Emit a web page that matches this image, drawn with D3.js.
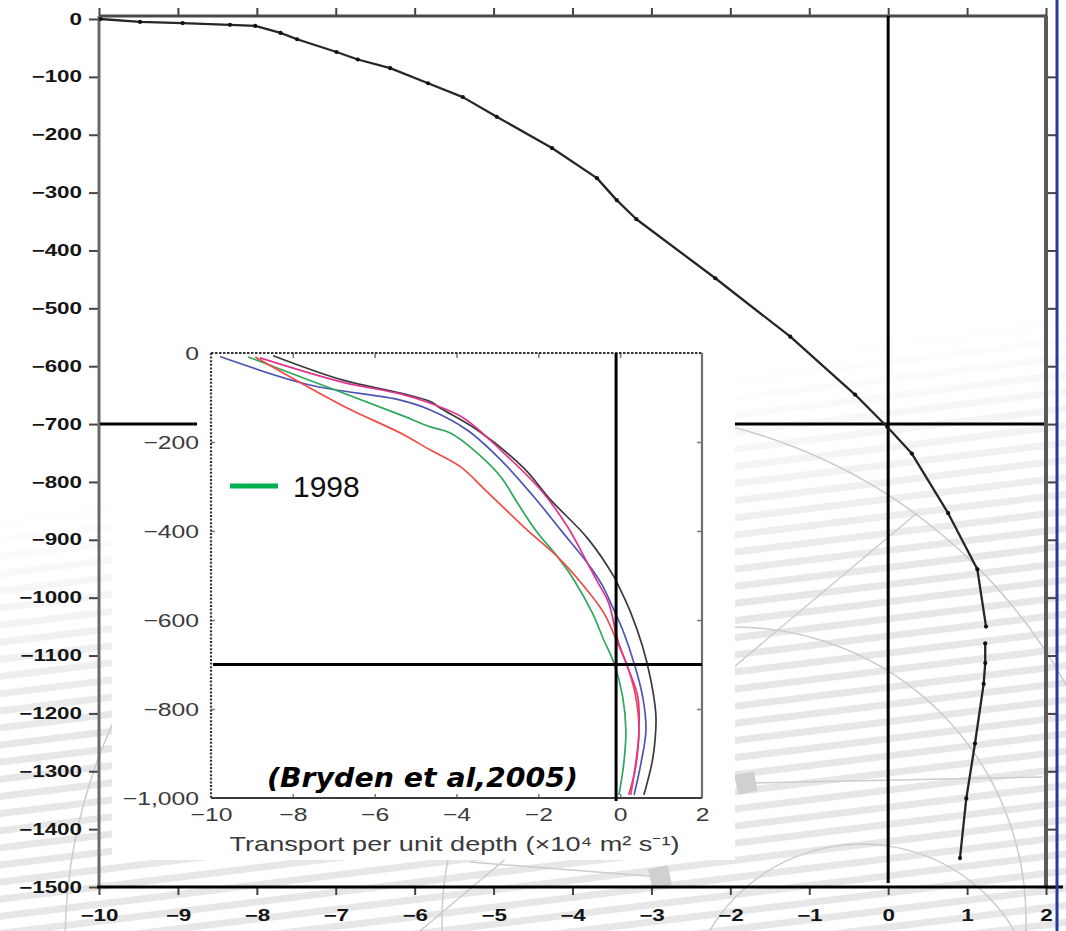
<!DOCTYPE html>
<html>
<head>
<meta charset="utf-8">
<script src="https://cdn.jsdelivr.net/npm/d3@7"></script>
<style>
  body { margin: 0; background: #fff; }
  svg { display: block; }
</style>
</head>
<body>
<svg id="chart" width="1066" height="931"></svg>
<script>
// ---- Main profile: transport per unit depth (x) against depth in metres (y)
// null marks the short gap in the drawn profile
const profileX     = [-9.98, -9.48, -8.94, -8.34, -8.02, -7.70, -7.49, -6.99, -6.72, -6.31, -5.83, -5.39, -4.96, -4.26, -3.69, -3.44, -3.19, -2.19, -1.24, -0.42, -0.01, 0.30, 0.76, 1.13, 1.24, null, 1.23, 1.23, 1.21, 1.10, 0.99, 0.91];
const profileDepth = [0, -5, -7, -10, -12, -24, -35, -57, -70, -85, -111, -135, -169, -223, -275, -313, -346, -448, -549, -649, -705, -751, -854, -951, -1050, null, -1079, -1113, -1149, -1252, -1347, -1450];

const mainXTicks = [-10, -9, -8, -7, -6, -5, -4, -3, -2, -1, 0, 1, 2];
const mainYTicks = [0, -100, -200, -300, -400, -500, -600, -700, -800, -900, -1000, -1100, -1200, -1300, -1400, -1500];

// ---- Inset (Bryden et al. 2005): [transport, depth] per year-profile
const insetBlack = [[-8.48, -6], [-6.77, -61], [-5.37, -90], [-4.64, -109], [-4.39, -124], [-3.49, -173], [-2.36, -258], [-1.70, -330], [-0.80, -416], [-0.15, -503], [-0.03, -525], [0.26, -584], [0.55, -660], [0.75, -735], [0.87, -809], [0.87, -847], [0.79, -915], [0.58, -993]];
const insetBlue = [[-9.78, -8], [-7.58, -72], [-5.37, -106], [-4.64, -128], [-3.74, -173], [-2.92, -240], [-2.11, -323], [-1.45, -398], [-0.80, -472], [-0.45, -520], [-0.19, -570], [0.06, -622], [0.34, -697], [0.55, -772], [0.63, -847], [0.51, -921], [0.34, -993]];
const insetGreen = [[-9.09, -9], [-6.77, -90], [-5.37, -139], [-4.64, -166], [-4.15, -180], [-3.49, -225], [-2.92, -278], [-2.51, -337], [-2.02, -404], [-1.53, -458], [-1.13, -510], [-0.68, -584], [-0.40, -645], [-0.15, -697], [0.06, -772], [0.14, -847], [0.09, -921], [-0.03, -993]];
const insetRed = [[-8.92, -9], [-6.77, -119], [-5.37, -180], [-4.64, -218], [-3.90, -256], [-3.34, -304], [-2.27, -398], [-1.53, -458], [-0.94, -518], [-0.40, -584], [-0.06, -652], [0.18, -705], [0.38, -772], [0.46, -847], [0.38, -921], [0.26, -993]];
const insetMagenta = [[-8.8, -11], [-6.77, -66], [-5.37, -92], [-4.64, -113], [-3.83, -146], [-2.92, -218], [-1.94, -308], [-1.29, -390], [-0.80, -472], [-0.55, -515], [-0.28, -562], [-0.06, -645], [0.18, -705], [0.43, -772], [0.46, -847], [0.38, -930], [0.21, -993]];

const insetXTicks = [-10, -8, -6, -4, -2, 0, 2];
const insetYTicks = [0, -200, -400, -600, -800, -1000];
const insetYLabels = ["0", "\u2212200", "\u2212400", "\u2212600", "\u2212800", "\u22121,000"];
const insetXLabels = ["\u221210", "\u22128", "\u22126", "\u22124", "\u22122", "0", "2"];

const legendYear = "1998";
const citation = "(Bryden et al,2005)";
const insetTitle = "Transport per unit depth (\u00d710\u2074 m\u00b2 s\u207b\u00b9)";

// reference lines
const refDepthMain = -700, refXMain = 0;
const refDepthInset = -700, refXInset = -0.1;

const W = 1066, H = 931;
const svg = d3.select("#chart");
const defs = svg.append("defs");

// ---------- decorative backdrop: pale stripes and arcs ----------
const pat = defs.append("pattern").attr("id", "stripes")
  .attr("patternUnits", "userSpaceOnUse").attr("width", 60).attr("height", 17)
  .attr("patternTransform", "rotate(-7)");
pat.append("rect").attr("width", 60).attr("height", 17).attr("fill", "#fff");
pat.append("rect").attr("y", 5).attr("width", 60).attr("height", 7).attr("fill", "#e7e7e7");

const grad = defs.append("linearGradient").attr("id", "fadeGrad")
  .attr("gradientUnits", "userSpaceOnUse")
  .attr("x1", 505).attr("y1", 410).attr("x2", 550).attr("y2", 640);
grad.append("stop").attr("offset", 0).attr("stop-color", "#000");
grad.append("stop").attr("offset", 1).attr("stop-color", "#fff");

const mask = defs.append("mask").attr("id", "fadeMask")
  .attr("maskUnits", "userSpaceOnUse").attr("x", 0).attr("y", 0).attr("width", W).attr("height", H);
mask.append("rect").attr("width", W).attr("height", H).attr("fill", "url(#fadeGrad)");

const bg = svg.append("g");
bg.append("rect").attr("width", W).attr("height", H).attr("fill", "url(#stripes)").attr("mask", "url(#fadeMask)");

const arcStyle = s => s.attr("fill", "none").attr("stroke", "#cccccc").attr("stroke-width", 1.5);
bg.append("circle").attr("cx", 599).attr("cy", 944).attr("r", 534).call(arcStyle);
bg.append("circle").attr("cx", 734).attr("cy", 919).attr("r", 292).call(arcStyle);
bg.append("circle").attr("cx", 862).attr("cy", 1021).attr("r", 177).call(arcStyle);
bg.append("line").attr("x1", 917).attr("y1", 513).attr("x2", 420).attr("y2", 931).call(arcStyle);
bg.append("line").attr("x1", 746).attr("y1", 783).attr("x2", 1043).attr("y2", 777).call(arcStyle);
bg.append("line").attr("x1", 660).attr("y1", 877).attr("x2", 470).attr("y2", 862).call(arcStyle);
bg.append("rect").attr("x", -10).attr("y", -10).attr("width", 20).attr("height", 20)
  .attr("fill", "#d0d0d0").attr("transform", "translate(746,783) rotate(-12)");
bg.append("rect").attr("x", -10).attr("y", -10).attr("width", 20).attr("height", 20)
  .attr("fill", "#d0d0d0").attr("transform", "translate(660,877) rotate(-12)");

// ---------- main chart ----------
const x = d3.scaleLinear().domain([-10, 2]).range([99, 1046]);
const y = d3.scaleLinear().domain([0, -1500]).range([19, 887]);
const frameTop = 16;

const minusFmt = d => d === 0 ? "0" : (d < 0 ? "\u2212" + Math.abs(d) : String(d));

function stretch(sel, k) {
  sel.each(function () {
    const w = this.getComputedTextLength();
    d3.select(this).attr("textLength", w * k).attr("lengthAdjust", "spacingAndGlyphs");
  });
}

const main = svg.append("g");

// tick marks on all four sides
const gTop = main.append("g").attr("transform", `translate(0,${frameTop})`)
  .call(d3.axisTop(x).tickValues(mainXTicks).tickSize(8).tickFormat(""));
const gRight = main.append("g").attr("transform", `translate(${x(2)},0)`)
  .call(d3.axisRight(y).tickValues(mainYTicks.slice(1)).tickSize(11).tickFormat(""));
const gLeft = main.append("g").attr("transform", `translate(${x(-10)},0)`)
  .call(d3.axisLeft(y).tickValues(mainYTicks).tickSize(10).tickPadding(7).tickFormat(minusFmt));
const gBottom = main.append("g").attr("transform", `translate(0,${y(-1500)})`)
  .call(d3.axisBottom(x).tickValues(mainXTicks).tickSize(8).tickPadding(15).tickFormat(minusFmt));

[gTop, gRight, gLeft, gBottom].forEach(g => {
  g.select(".domain").remove();
  g.selectAll(".tick line").attr("stroke", "#444").attr("stroke-width", 2);
  g.selectAll("text").attr("font-family", "'Liberation Sans', Arial, sans-serif")
    .attr("font-weight", "bold").attr("font-size", 16).attr("fill", "#151515");
});
gLeft.selectAll("text").call(stretch, 1.4);
gBottom.selectAll("text").call(stretch, 1.4);

// frame
main.append("line").attr("x1", x(-10)).attr("x2", x(2)).attr("y1", frameTop).attr("y2", frameTop)
  .attr("stroke", "#4a4a4a").attr("stroke-width", 3);
main.append("line").attr("x1", x(-10)).attr("x2", x(-10)).attr("y1", frameTop).attr("y2", y(-1500))
  .attr("stroke", "#6a6a6a").attr("stroke-width", 3);
main.append("line").attr("x1", x(2)).attr("x2", x(2)).attr("y1", frameTop).attr("y2", y(-1500))
  .attr("stroke", "#5a5a5a").attr("stroke-width", 4);
main.append("line").attr("x1", x(-10) - 2).attr("x2", 1063).attr("y1", y(-1500)).attr("y2", y(-1500))
  .attr("stroke", "#000").attr("stroke-width", 3);

// right-hand page rule
svg.append("line").attr("x1", 1057).attr("x2", 1057).attr("y1", 0).attr("y2", H)
  .attr("stroke", "#1f3ca6").attr("stroke-width", 3);

// reference cross-hairs
main.append("line").attr("x1", x(refXMain)).attr("x2", x(refXMain)).attr("y1", frameTop).attr("y2", y(-1493))
  .attr("stroke", "#000").attr("stroke-width", 3);
main.append("line").attr("x1", 703).attr("x2", x(2) - 2).attr("y1", y(refDepthMain)).attr("y2", y(refDepthMain))
  .attr("stroke", "#000").attr("stroke-width", 3);

// profile line and markers
const profile = profileX.map((v, i) => ({ x: v, d: profileDepth[i] }));
const profLine = d3.line().defined(p => p.x !== null).x(p => x(p.x)).y(p => y(p.d));
main.append("path").datum(profile).attr("d", profLine)
  .attr("fill", "none").attr("stroke", "#262626").attr("stroke-width", 2.3).attr("stroke-linejoin", "round");
main.selectAll("circle.pt").data(profile.filter(p => p.x !== null)).join("circle")
  .attr("class", "pt").attr("cx", p => x(p.x)).attr("cy", p => y(p.d)).attr("r", 2.1).attr("fill", "#111");

// ---------- inset ----------
const inset = svg.append("g");
inset.append("rect").attr("x", 112).attr("y", 340).attr("width", 623).attr("height", 520).attr("fill", "#fff");

const ix = d3.scaleLinear().domain([-10, 2]).range([211, 702]);
const iy = d3.scaleLinear().domain([0, -1000]).range([353, 798]);

// inner ticks
const iTop = inset.append("g").attr("transform", `translate(0,${iy(0)})`)
  .call(d3.axisBottom(ix).tickValues(insetXTicks.slice(1, -1)).tickSize(5).tickFormat(""));
const iBottom = inset.append("g").attr("transform", `translate(0,${iy(-1000)})`)
  .call(d3.axisTop(ix).tickValues(insetXTicks.slice(1, -1)).tickSize(4).tickFormat(""));
const iLeftT = inset.append("g").attr("transform", `translate(${ix(-10)},0)`)
  .call(d3.axisRight(iy).tickValues(insetYTicks.slice(1, -1)).tickSize(4).tickFormat(""));
const iRightT = inset.append("g").attr("transform", `translate(${ix(2)},0)`)
  .call(d3.axisLeft(iy).tickValues(insetYTicks.slice(1, -1)).tickSize(5).tickFormat(""));
[iTop, iBottom, iLeftT, iRightT].forEach(g => {
  g.select(".domain").remove();
  g.selectAll(".tick line").attr("stroke", "#777").attr("stroke-width", 1.5);
});

// labels
const labelFont = "'Liberation Sans', Arial, Helvetica, sans-serif";
const iLeft = inset.append("g").attr("transform", `translate(${ix(-10)},0)`)
  .call(d3.axisLeft(iy).tickValues(insetYTicks).tickSize(0).tickPadding(12)
    .tickFormat((d, i) => insetYLabels[i]));
const iBot = inset.append("g").attr("transform", `translate(0,${iy(-1000)})`)
  .call(d3.axisBottom(ix).tickValues(insetXTicks).tickSize(0).tickPadding(10)
    .tickFormat((d, i) => insetXLabels[i]));
[iLeft, iBot].forEach(g => {
  g.select(".domain").remove();
  g.selectAll("text").attr("font-family", labelFont).attr("font-size", 19).attr("fill", "#3a3a3a");
  g.selectAll("text").call(stretch, 1.3);
});

inset.append("text").attr("x", (ix(-10) + ix(2)) / 2 - 2).attr("y", 851)
  .attr("text-anchor", "middle").attr("font-family", labelFont).attr("font-size", 21)
  .attr("fill", "#3a3a3a").attr("textLength", 450).attr("lengthAdjust", "spacingAndGlyphs")
  .text(insetTitle);

// frame: dotted left/top, solid right/bottom
inset.append("line").attr("x1", ix(-10)).attr("x2", ix(-10)).attr("y1", iy(0)).attr("y2", iy(-1000))
  .attr("stroke", "#333").attr("stroke-width", 2.2).attr("stroke-dasharray", "2,1.6");
inset.append("line").attr("x1", ix(-10)).attr("x2", ix(2)).attr("y1", iy(0)).attr("y2", iy(0))
  .attr("stroke", "#333").attr("stroke-width", 2).attr("stroke-dasharray", "2.5,1.5");
inset.append("line").attr("x1", ix(2)).attr("x2", ix(2)).attr("y1", iy(0)).attr("y2", iy(-1000))
  .attr("stroke", "#707070").attr("stroke-width", 2.2);
inset.append("line").attr("x1", ix(-10)).attr("x2", ix(2)).attr("y1", iy(-1000)).attr("y2", iy(-1000))
  .attr("stroke", "#3c3c3c").attr("stroke-width", 2.2);

// series
const seriesList = [
  { data: insetBlack, color: "#3a3a3a" },
  { data: insetBlue, color: "#4b55b3" },
  { data: insetGreen, color: "#2da85c" },
  { data: insetRed, color: "#ef4b45" },
  { data: insetMagenta, color: "#e2348e" }
];
const iLine = d3.line().x(p => ix(p[0])).y(p => iy(p[1])).curve(d3.curveCatmullRom.alpha(0.5));
inset.selectAll("path.series").data(seriesList).join("path").attr("class", "series")
  .attr("d", s => iLine(s.data)).attr("fill", "none").attr("stroke", s => s.color)
  .attr("stroke-width", 1.7).attr("stroke-linejoin", "round");

// inset cross-hairs
inset.append("line").attr("x1", ix(refXInset)).attr("x2", ix(refXInset)).attr("y1", iy(0)).attr("y2", iy(-1000) + 3)
  .attr("stroke", "#000").attr("stroke-width", 3);
inset.append("line").attr("x1", ix(-10) + 2).attr("x2", ix(2)).attr("y1", iy(refDepthInset)).attr("y2", iy(refDepthInset))
  .attr("stroke", "#000").attr("stroke-width", 3);

// main reference line segment that runs over the inset margin
svg.append("line").attr("x1", x(-10) + 1).attr("x2", 197).attr("y1", y(refDepthMain)).attr("y2", y(refDepthMain))
  .attr("stroke", "#000").attr("stroke-width", 3);

// legend entry
svg.append("line").attr("x1", 230).attr("x2", 278).attr("y1", 486).attr("y2", 486)
  .attr("stroke", "#00b050").attr("stroke-width", 5);
svg.append("text").attr("x", 293).attr("y", 497).attr("font-family", labelFont)
  .attr("font-size", 30).attr("fill", "#111").text(legendYear);

// citation
svg.append("text").attr("x", 267).attr("y", 787)
  .attr("font-family", "'Comic Sans MS', 'DejaVu Sans', sans-serif")
  .attr("font-weight", "bold").attr("font-style", "italic").attr("font-size", 26)
  .attr("fill", "#000").attr("textLength", 311).attr("lengthAdjust", "spacingAndGlyphs")
  .text(citation);
</script>
</body>
</html>
